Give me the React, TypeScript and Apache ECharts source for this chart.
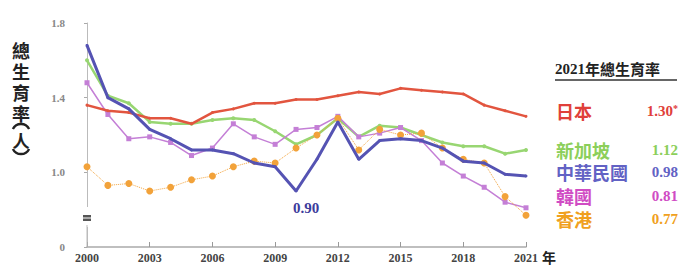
import React, { useEffect, useRef } from "react";
import * as echarts from "echarts";

const years = ["2000","2001","2002","2003","2004","2005","2006","2007","2008","2009","2010","2011","2012","2013","2014","2015","2016","2017","2018","2019","2020","2021"];
const japan = [1.36,1.33,1.32,1.29,1.29,1.26,1.32,1.34,1.37,1.37,1.39,1.39,1.41,1.43,1.42,1.45,1.44,1.43,1.42,1.36,1.33,1.30];
const singapore = [1.60,1.41,1.37,1.27,1.26,1.26,1.28,1.29,1.28,1.22,1.15,1.20,1.29,1.19,1.25,1.24,1.20,1.16,1.14,1.14,1.10,1.12];
const taiwan = [1.68,1.40,1.34,1.23,1.18,1.12,1.12,1.10,1.05,1.03,0.90,1.07,1.27,1.07,1.17,1.18,1.17,1.13,1.06,1.05,0.99,0.98];
const korea = [1.48,1.31,1.18,1.19,1.16,1.09,1.13,1.26,1.19,1.15,1.23,1.24,1.30,1.19,1.21,1.24,1.17,1.05,0.98,0.92,0.84,0.81];
const hongkong = [1.03,0.93,0.94,0.90,0.92,0.96,0.98,1.03,1.06,1.05,1.13,1.20,1.29,1.12,1.23,1.20,1.21,1.13,1.07,1.05,0.87,0.77];
const yTickLabels: Record<string, string> = { "0.6": "0", "1": "1.0", "1.4": "1.4", "1.8": "1.8" };
const legendNames = ["日本", "新加坡", "中華民國", "韓國", "香港"];
const legendValues = ["1.30", "1.12", "0.98", "0.81", "0.77"];
const annotateIndex = 10;

const C_JP = "#e2553f";
const C_SG = "#98d672";
const C_TW = "#5553b3";
const C_KR = "#c47fd6";
const C_HK = "#f2a23a";
const T_JP = "#e0403a";
const T_SG = "#8ccf5a";
const T_TW = "#6262c4";
const T_KR = "#d04cc4";
const T_HK = "#f0a020";

const SERIF = "'Liberation Serif', 'DejaVu Serif', serif";
const CJK = "'Noto Sans CJK TC', 'Noto Sans CJK SC', sans-serif";

export default function App() {
  const ref = useRef<HTMLDivElement>(null);
  useEffect(() => {
    if (!ref.current) return;
    const chart = echarts.init(ref.current, undefined, { renderer: "svg" });
    const legendRows = [112, 151, 173, 197, 220];
    const nameColors = [T_JP, T_SG, T_TW, T_KR, T_HK];
    const graphics: any[] = [];
    // y-axis title (vertical)
    graphics.push({
      type: "text", x: 21, y: 39,
      style: { text: "總\n生\n育\n率", font: `bold 18px ${CJK}`, lineHeight: 21, fill: "#222", textAlign: "center", textVerticalAlign: "top" },
    });
    graphics.push({
      type: "arc", shape: { cx: 21, cy: 133, r: 9, startAngle: Math.PI + 0.45, endAngle: 2 * Math.PI - 0.45 },
      style: { stroke: "#222", lineWidth: 2.4, fill: null },
    });
    graphics.push({
      type: "text", x: 21, y: 140,
      style: { text: "人", font: `bold 17px ${CJK}`, lineHeight: 15, fill: "#222", textAlign: "center", textVerticalAlign: "middle" },
    });
    graphics.push({
      type: "arc", shape: { cx: 21, cy: 145, r: 9, startAngle: 0.45, endAngle: Math.PI - 0.45 },
      style: { stroke: "#222", lineWidth: 2.4, fill: null },
    });
    // axis break mark
    graphics.push({ type: "rect", shape: { x: 82, y: 207, width: 10, height: 20 }, style: { fill: "#fff" }, z: 100 });
    graphics.push({ type: "rect", shape: { x: 83, y: 215, width: 8, height: 6 }, style: { fill: "#555" }, z: 101 });
    graphics.push({ type: "line", shape: { x1: 83, y1: 218, x2: 91, y2: 218 }, style: { stroke: "#fff", lineWidth: 1 }, z: 102 });
    graphics.push({ type: "line", shape: { x1: 87, y1: 225, x2: 87, y2: 247 }, style: { stroke: "#bbb", lineWidth: 1 }, z: 101 });
    // x-axis unit
    graphics.push({ type: "text", left: 542, top: 250, style: { text: "年", font: `bold 14px ${CJK}`, fill: "#222" } });
    // legend title
    graphics.push({
      type: "text", left: 555, top: 61,
      style: { text: "{a|2021}{b|年總生育率}", rich: { a: { font: `bold 15px ${SERIF}`, fill: "#222" }, b: { font: `bold 15px ${CJK}`, fill: "#222" } } },
    });
    graphics.push({ type: "line", shape: { x1: 555, y1: 80, x2: 677, y2: 80 }, style: { stroke: "#333", lineWidth: 1.5 } });
    legendNames.forEach((n, i) => {
      graphics.push({
        type: "text", left: 556, top: legendRows[i] - 10,
        style: { text: n, font: `bold 18px ${CJK}`, fill: nameColors[i] },
      });
      const valText = i === 0 ? `{v|${legendValues[i]}}{s|*}` : `{v|${legendValues[i]}}`;
      graphics.push({
        type: "text", right: 8, top: legendRows[i] - 9,
        style: {
          text: valText,
          rich: {
            v: { font: `bold 15px ${SERIF}`, fill: nameColors[i] },
            s: { font: `bold 10px ${SERIF}`, fill: nameColors[i], verticalAlign: "top", padding: [0, 0, 6, 0] },
          },
        },
      });
    });

    const taiwanData = taiwan.map((v, i) =>
      i === annotateIndex
        ? {
            value: v,
            label: {
              show: true, position: "bottom", distance: 8, offset: [10, 0],
              formatter: (p: any) => Number(p.value).toFixed(2),
              fontFamily: SERIF, fontSize: 15, fontWeight: "bold", color: "#3c3c9c",
            },
          }
        : v
    );

    chart.setOption({
      animation: false,
      backgroundColor: "#fff",
      grid: { left: 87, right: 160, top: 23, bottom: 21, containLabel: false },
      xAxis: {
        type: "category",
        data: years,
        boundaryGap: false,
        axisLine: { lineStyle: { color: "#aaa", width: 1.5 } },
        axisTick: { inside: true, length: 5, interval: 2, lineStyle: { color: "#999" } },
        axisLabel: { interval: 2, color: "#444", fontFamily: SERIF, fontSize: 12, fontWeight: "bold", margin: 5 },
        splitLine: { show: false },
      },
      yAxis: {
        type: "value",
        min: 0.6, max: 1.8, interval: 0.4,
        axisLine: { show: true, lineStyle: { color: "#bbb" } },
        axisTick: { show: true, length: 3, lineStyle: { color: "#aaa" } },
        axisLabel: {
          color: "#888", fontFamily: SERIF, fontSize: 11, fontWeight: "bold", margin: 22,
          formatter: (v: number) => yTickLabels[String(Math.round(v * 10) / 10)] ?? "",
        },
        splitLine: { show: false },
      },
      series: [
        {
          name: "日本", type: "line", data: japan,
          lineStyle: { color: C_JP, width: 2.5 }, itemStyle: { color: C_JP },
          symbol: "circle", symbolSize: 3, z: 5,
        },
        {
          name: "新加坡", type: "line", data: singapore,
          lineStyle: { color: C_SG, width: 2.5 }, itemStyle: { color: C_SG },
          symbol: "circle", symbolSize: 4, z: 3,
        },
        {
          name: "韓國", type: "line", data: korea,
          lineStyle: { color: C_KR, width: 1.5 }, itemStyle: { color: C_KR },
          symbol: "rect", symbolSize: 5, z: 4,
        },
        {
          name: "香港", type: "line", data: hongkong,
          lineStyle: { color: C_HK, width: 1, type: "dotted" }, itemStyle: { color: C_HK },
          symbol: "circle", symbolSize: 7, z: 4,
        },
        {
          name: "中華民國", type: "line", data: taiwanData,
          lineStyle: { color: C_TW, width: 3 }, itemStyle: { color: C_TW },
          symbol: "circle", symbolSize: 3, z: 6,
        },
      ],
      graphic: graphics,
    });
    return () => chart.dispose();
  }, []);
  return <div ref={ref} style={{ width: 686, height: 268, position: "absolute", left: 0, top: 0 }} />;
}
